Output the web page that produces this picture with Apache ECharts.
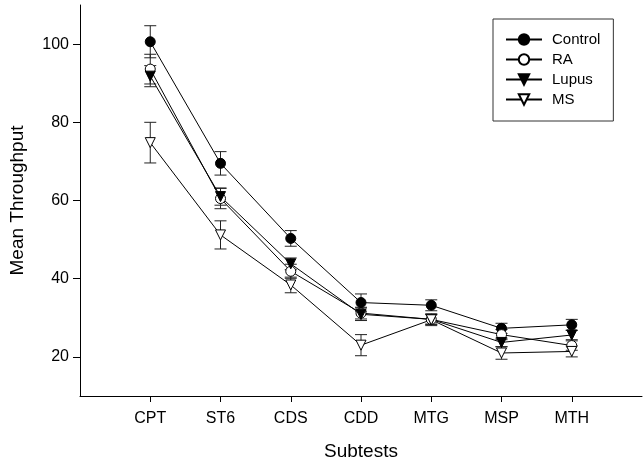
<!DOCTYPE html>
<html>
<head>
<meta charset="utf-8">
<script src="https://cdn.jsdelivr.net/npm/echarts@6/dist/echarts.min.js"></script>
<style>
html,body{margin:0;padding:0;background:#fff;}
#chart{width:644px;height:466px;}
</style>
</head>
<body>
<div id="chart"></div>
<script>
const categories = ['CPT', 'ST6', 'CDS', 'CDD', 'MTG', 'MSP', 'MTH'];
const yTicks = [20, 40, 60, 80, 100];

const controlMean = [100.6, 69.5, 50.3, 33.9, 33.2, 27.3, 28.2];
const controlErr  = [4.1, 3.0, 2.0, 2.2, 1.4, 1.3, 1.4];
const raMean      = [93.6, 60.5, 41.9, 31.2, 29.6, 25.7, 22.9];
const raErr       = [3.8, 2.6, 1.8, 1.5, 1.3, 1.3, 1.2];
const lupusMean   = [91.8, 61.0, 43.8, 30.9, 29.6, 23.7, 25.6];
const lupusErr    = [2.7, 2.2, 1.5, 1.6, 1.2, 1.1, 1.2];
const msMean      = [74.8, 51.2, 38.4, 23.0, 29.5, 21.0, 21.4];
const msErr       = [5.2, 3.6, 2.0, 2.7, 1.5, 1.6, 1.4];

const tri = 'path://M0,0 L10,0 L5,9 Z';
const groups = [
  {name: 'Control', mean: controlMean, err: controlErr, symbol: 'circle', fill: '#000'},
  {name: 'RA', mean: raMean, err: raErr, symbol: 'circle', fill: '#fff'},
  {name: 'Lupus', mean: lupusMean, err: lupusErr, symbol: tri, fill: '#000'},
  {name: 'MS', mean: msMean, err: msErr, symbol: tri, fill: '#fff'}
];

const FONT = 'Liberation Sans, Arial, Helvetica, sans-serif';
const chart = echarts.init(document.getElementById('chart'), null, {renderer: 'canvas'});
const series = [];
groups.forEach(function (g) {
  series.push({
    type: 'custom',
    name: g.name + ' err',
    z: 1,
    silent: true,
    data: g.mean.map(function (m, i) { return [i + 1, m - g.err[i], m + g.err[i]]; }),
    renderItem: function (params, api) {
      const x = api.value(0);
      const lo = api.coord([x, api.value(1)]);
      const hi = api.coord([x, api.value(2)]);
      const w = 6;
      const st = {stroke: '#222', lineWidth: 1};
      return {
        type: 'group',
        children: [
          {type: 'line', shape: {x1: lo[0], y1: lo[1], x2: hi[0], y2: hi[1]}, style: st},
          {type: 'line', shape: {x1: lo[0] - w, y1: lo[1], x2: lo[0] + w, y2: lo[1]}, style: st},
          {type: 'line', shape: {x1: hi[0] - w, y1: hi[1], x2: hi[0] + w, y2: hi[1]}, style: st}
        ]
      };
    }
  });
});
groups.forEach(function (g) {
  series.push({
    type: 'line',
    name: g.name,
    z: 2,
    data: g.mean.map(function (m, i) { return [i + 1, m]; }),
    symbol: g.symbol,
    symbolSize: 10,
    showAllSymbol: true,
    lineStyle: {color: '#000', width: 1},
    itemStyle: {color: g.fill, borderColor: '#000', borderWidth: 1},
    emphasis: {disabled: true},
    animation: false
  });
});

chart.setOption({
  animation: false,
  backgroundColor: '#fff',
  grid: {left: 76, right: 2, top: 5, bottom: 67, containLabel: false},
  legend: {
    data: groups.map(function (g) { return g.name; }),
    orient: 'vertical',
    left: 493,
    top: 19,
    itemWidth: 36,
    itemHeight: 13,
    itemGap: 5,
    padding: [13, 13, 14, 12],
    borderColor: '#333',
    borderWidth: 1,
    textStyle: {fontFamily: FONT, fontSize: 15, color: '#000', padding: [0, 0, 0, 5]}
  },
  xAxis: {
    type: 'value',
    min: 0,
    max: 8,
    interval: 1,
    name: 'Subtests',
    nameLocation: 'middle',
    nameGap: 46,
    nameTextStyle: {fontFamily: FONT, fontSize: 19, color: '#000'},
    axisLine: {show: true, lineStyle: {color: '#000', width: 1}},
    axisTick: {show: true, length: 6, lineStyle: {color: '#000'}, customValues: categories.map(function (c, i) { return i + 1; })},
    axisLabel: {
      fontFamily: FONT, fontSize: 16, color: '#000', margin: 15,
      customValues: categories.map(function (c, i) { return i + 1; }),
      formatter: function (v) { return categories[Math.round(v) - 1] || ''; }
    },
    splitLine: {show: false}
  },
  yAxis: {
    type: 'value',
    min: 10,
    max: 110,
    interval: 10,
    name: 'Mean Throughput',
    nameLocation: 'middle',
    nameGap: 53,
    nameRotate: 90,
    nameTextStyle: {fontFamily: FONT, fontSize: 19, color: '#000'},
    axisLine: {show: true, lineStyle: {color: '#000', width: 1}},
    axisTick: {show: true, length: 7, lineStyle: {color: '#000'}, customValues: yTicks},
    axisLabel: {fontFamily: FONT, fontSize: 16, color: '#000', margin: 11, customValues: yTicks},
    splitLine: {show: false}
  },
  series: series
});
</script>
</body>
</html>
